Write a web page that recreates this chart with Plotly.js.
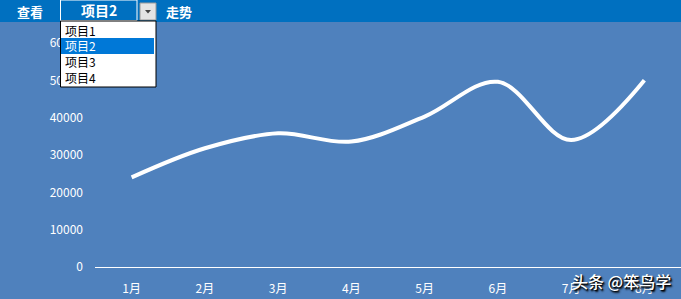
<!DOCTYPE html>
<html><head><meta charset="utf-8">
<script src="https://cdn.plot.ly/plotly-3.0.1.min.js"></script>
<style>html,body{margin:0;padding:0;background:#4F81BD;}#c{width:681px;height:299px;}</style>
</head><body><div id="c"></div>
<script>
const months = ["1月","2月","3月","4月","5月","6月","7月","8月"];
const values = [24000, 31800, 35800, 33600, 40300, 49600, 34000, 50000];
const yTicks = [0, 10000, 20000, 30000, 40000, 50000, 60000];
const menuItems = ["项目1","项目2","项目3","项目4"];
const selected = "项目2";

const W=681,H=299,L=95,R=0,T=43,B=32;
const pw=W-L-R, ph=H-T-B;
const px = x => (x-L)/pw;
const py = y => (H-B-y)/ph;
const FONT = '"Noto Sans CJK SC","Microsoft YaHei",sans-serif';

const shapes = [
  {type:'rect',xref:'paper',yref:'paper',x0:px(0),x1:px(W),y0:py(0),y1:py(22),fillcolor:'#0070C0',line:{width:0},layer:'above'},
  {type:'rect',xref:'paper',yref:'paper',x0:px(60.5),x1:px(137),y0:py(0),y1:py(20.5),fillcolor:'#0070C0',line:{color:'#ffffff',width:1},layer:'above'},
  {type:'rect',xref:'paper',yref:'paper',x0:px(140),x1:px(156),y0:py(3),y1:py(20),fillcolor:'#E4E4E4',line:{color:'#9a9a9a',width:1},layer:'above'},
  {type:'path',xref:'paper',yref:'paper',path:`M ${px(145)} ${py(10)} L ${px(151)} ${py(10)} L ${px(148)} ${py(13.5)} Z`,fillcolor:'#444',line:{width:0},layer:'above'},
  {type:'rect',xref:'paper',yref:'paper',x0:px(60.5),x1:px(156),y0:py(21),y1:py(87),fillcolor:'#ffffff',line:{color:'#000000',width:1},layer:'above'},
];
const annotations = [
  {text:'<b>查看</b>',x:px(30),y:py(11)},
  {text:'<b>'+selected+'</b>',x:px(99),y:py(10.5),size:14},
  {text:'<b>走势</b>',x:px(179),y:py(11)},
].map(a=>({xref:'paper',yref:'paper',x:a.x,y:a.y,text:a.text,showarrow:false,xanchor:'center',yanchor:'middle',font:{family:FONT,size:a.size||13,color:'#fff'}}));

menuItems.forEach((m,i)=>{
  const cy = 30.5 + i*15.5;
  if(m===selected){
    shapes.push({type:'rect',xref:'paper',yref:'paper',x0:px(61),x1:px(154),y0:py(cy-8),y1:py(cy+8),fillcolor:'#0078D7',line:{width:0},layer:'above'});
  }
  annotations.push({xref:'paper',yref:'paper',x:px(63),y:py(cy),text:m,showarrow:false,xanchor:'left',yanchor:'middle',font:{family:FONT,size:12,color:m===selected?'#fff':'#000'}});
});
annotations.push({xref:'paper',yref:'paper',x:px(673),y:py(281),text:'头条 @笨鸟学',showarrow:false,xanchor:'right',yanchor:'middle',font:{family:FONT,size:16,weight:500,color:'#fff',shadow:'1px 1px 1px #000, 1.5px 1.5px 2px #000'}});

Plotly.newPlot('c',[{
  type:'scatter',mode:'lines',x:months,y:values,
  line:{color:'#ffffff',width:4,shape:'spline',smoothing:1},hoverinfo:'skip'
}],{
  width:W,height:H,margin:{l:L,r:R,t:T,b:B,pad:0},
  paper_bgcolor:'#4F81BD',plot_bgcolor:'#4F81BD',showlegend:false,
  xaxis:{type:'category',range:[-0.5,7.5],showgrid:false,zeroline:false,showline:true,linecolor:'#ffffff',linewidth:1,ticks:'',ticklabelstandoff:11,tickfont:{family:FONT,size:12,color:'#fff'},fixedrange:true},
  yaxis:{range:[0,60000],tickvals:yTicks,ticktext:yTicks.map(String),showgrid:false,zeroline:false,showline:false,ticks:'',ticklabelstandoff:11,tickfont:{family:FONT,size:12,color:'#fff'},fixedrange:true},
  shapes,annotations
},{displayModeBar:false,staticPlot:true});
</script></body></html>
